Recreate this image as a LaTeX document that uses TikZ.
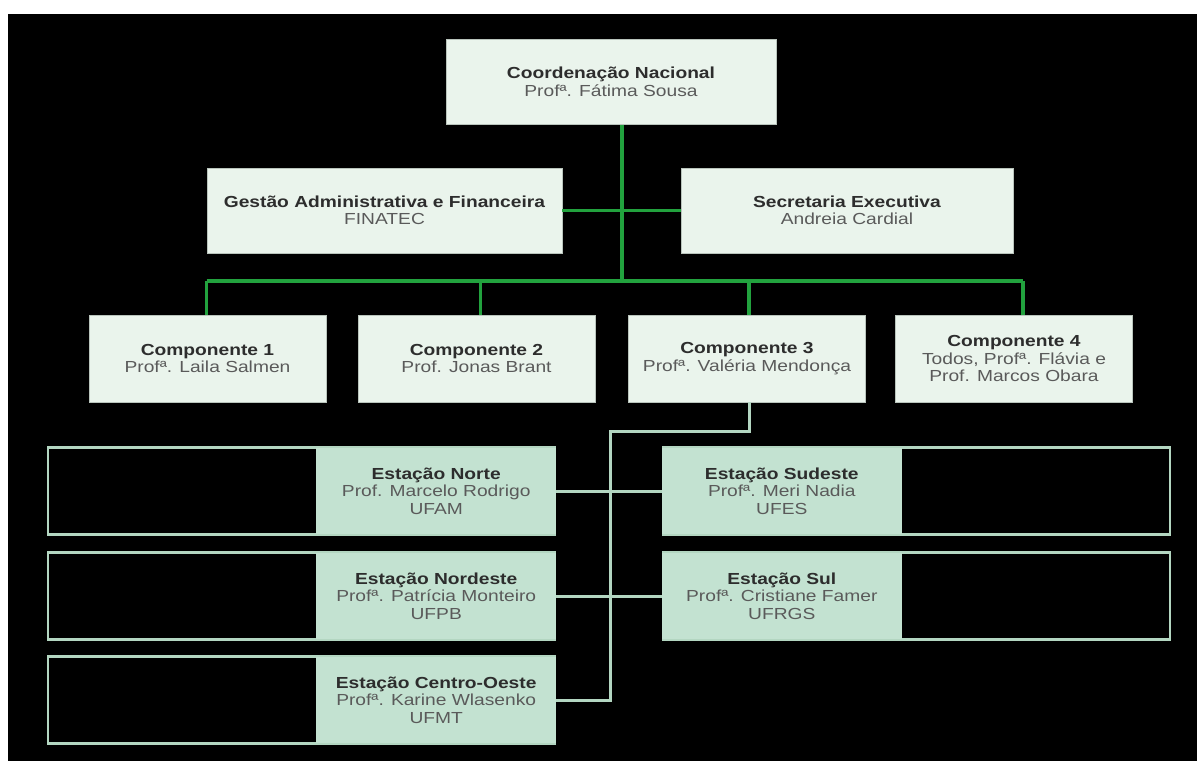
\documentclass[tikz,border=0pt]{standalone}
\usepackage{fontspec}
\setmainfont{Liberation Sans}[FakeStretch=1.2]
\usepackage{xcolor}
\usepackage{tikz}
\usetikzlibrary{positioning, calc}

\definecolor{boxfill}{HTML}{EAF4EC}
\definecolor{boxedge}{HTML}{B9C4BC}
\definecolor{stationfill}{HTML}{C3E2D1}
\definecolor{paleline}{HTML}{B3D6C1}
\definecolor{orggreen}{HTML}{22A23E}
\definecolor{titletext}{HTML}{2D2D2D}
\definecolor{subtext}{HTML}{5A5A5A}

\newcommand{\unittitle}[1]{\textcolor{titletext}{\textbf{#1}}}

\begin{document}
\begin{tikzpicture}[x=1pt, y=-1pt,
    every node/.style={font=\fontsize{16}{17.5}\selectfont, align=center, inner sep=0pt, text=subtext},
    unit/.style={fill=boxfill, draw=boxedge, line width=0.6pt, minimum height=85pt},
    compbox/.style={unit, minimum width=237pt, minimum height=87pt},
    stationframe/.style={fill=black, draw=paleline, line width=2.8pt, minimum width=507pt, minimum height=87pt},
    station/.style={fill=stationfill, minimum width=240pt, minimum height=86pt},
    greenline/.style={draw=orggreen, line width=3.3pt},
    spineline/.style={draw=paleline, line width=3pt}
]
\useasboundingbox (0,0) rectangle (1197,761);
\fill[white] (0,0) rectangle (1197,761);
\fill[black] (8,14) rectangle (1197,761);

% direction
\node[unit, minimum width=330pt] (coord) at (611,82)
    {\unittitle{Coordenação Nacional}\\Profª. Fátima Sousa};
\node[unit, minimum width=355pt] (gestao) at (384.5,210.5)
    {\unittitle{Gestão Administrativa e Financeira}\\FINATEC};
\node[unit, minimum width=332pt] (secretaria) at (847,210.5)
    {\unittitle{Secretaria Executiva}\\Andreia Cardial};

% components
\node[compbox] (comp1) at (207.5,358.5) {\unittitle{Componente 1}\\Profª. Laila Salmen};
\node[compbox] (comp2) at (476.5,358.5) {\unittitle{Componente 2}\\Prof. Jonas Brant};
\node[compbox] (comp3) at (747,358.5) {\unittitle{Componente 3}\\Profª. Valéria Mendonça};
\node[compbox] (comp4) at (1014,358.5) {\unittitle{Componente 4}\\Todos, Profª. Flávia e\\Prof. Marcos Obara};

% stations
\node[stationframe] (norteframe) at (301.5,491) {};
\node[station, anchor=east] (norte) at (norteframe.east) {\unittitle{Estação Norte}\\Prof. Marcelo Rodrigo\\UFAM};
\node[stationframe] (nordesteframe) at (301.5,596) {};
\node[station, anchor=east] (nordeste) at (nordesteframe.east) {\unittitle{Estação Nordeste}\\Profª. Patrícia Monteiro\\UFPB};
\node[stationframe] (centroesteframe) at (301.5,700) {};
\node[station, anchor=east] (centroeste) at (centroesteframe.east) {\unittitle{Estação Centro-Oeste}\\Profª. Karine Wlasenko\\UFMT};
\node[stationframe] (sudesteframe) at (916.5,491) {};
\node[station, anchor=west] (sudeste) at (sudesteframe.west) {\unittitle{Estação Sudeste}\\Profª. Meri Nadia\\UFES};
\node[stationframe] (sulframe) at (916.5,596) {};
\node[station, anchor=west] (sul) at (sulframe.west) {\unittitle{Estação Sul}\\Profª. Cristiane Famer\\UFRGS};

% green tree
\coordinate (bus) at (622,281);
\draw[greenline] (coord.south -| bus) -- (bus);
\draw[greenline] (gestao.east) -- (secretaria.west);
\draw[greenline] ([xshift=-1pt]comp1.north |- bus) -- ([xshift=9pt]comp4.north |- bus);
\foreach \c/\dx in {comp1/-1,comp2/4,comp3/2,comp4/9}
    \draw[greenline] ([xshift=\dx pt]\c.north) -- ([xshift=\dx pt]\c.north |- bus);

% stations links
\coordinate (spine) at (610,431);
\draw[spineline] ([xshift=2pt]comp3.south) |- (spine) |- (centroeste.east);
\draw[spineline] (norte.east) -- (sudeste.west);
\draw[spineline] (nordeste.east) -- (sul.west);
\end{tikzpicture}
\end{document}
